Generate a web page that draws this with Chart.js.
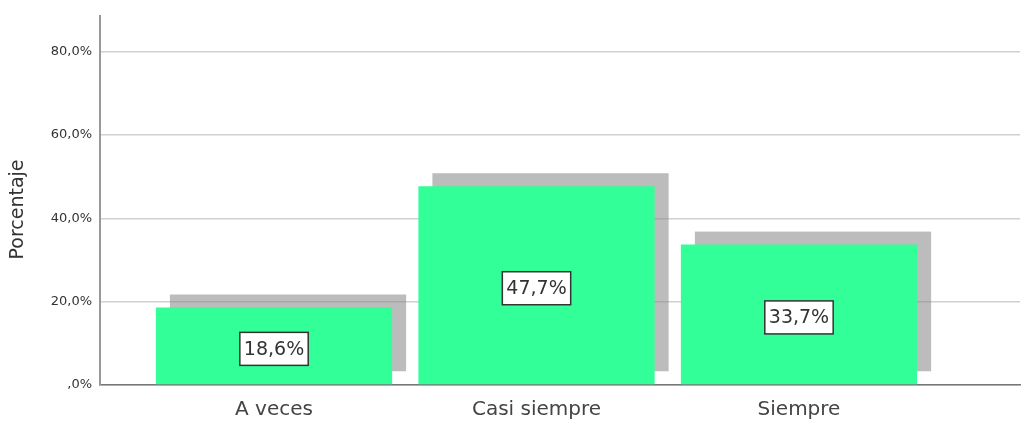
<!DOCTYPE html>
<html>
<head>
<meta charset="utf-8">
<script src="https://cdn.jsdelivr.net/npm/chart.js@4"></script>
<style>
  html, body { margin: 0; padding: 0; background: #fff; }
</style>
</head>
<body>
<canvas id="grafico" width="1030" height="425"></canvas>
<script>
// datos
const categorias = ['A veces', 'Casi siempre', 'Siempre'];
const porcentajes = [18.6, 47.7, 33.7];
const yTicks = [0, 20, 40, 60, 80];
const yTickLabels = [',0%', '20,0%', '40,0%', '60,0%', '80,0%'];
const yMax = 88.6;

const FUENTE = 'DejaVu Sans';

function formato(v) {
  return v.toFixed(1).replace('.', ',') + '%';
}

// sombra gris detras de cada barra (estilo SPSS)
const sombra = {
  id: 'sombra',
  beforeDatasetsDraw(chart) {
    const ctx = chart.ctx;
    ctx.save();
    ctx.fillStyle = 'rgba(140,140,140,0.58)';
    chart.getDatasetMeta(0).data.forEach(bar => {
      const p = bar.getProps(['x', 'y', 'base', 'width'], true);
      ctx.fillRect(p.x - p.width / 2 + 14, p.y - 13, p.width, p.base - p.y);
    });
    ctx.restore();
  }
};

// etiqueta con recuadro blanco en el centro de la barra
const etiquetas = {
  id: 'etiquetas',
  afterDatasetsDraw(chart) {
    const ctx = chart.ctx;
    ctx.save();
    ctx.font = '19px "' + FUENTE + '"';
    ctx.textAlign = 'center';
    ctx.textBaseline = 'middle';
    chart.getDatasetMeta(0).data.forEach((bar, i) => {
      const p = bar.getProps(['x', 'y', 'base'], true);
      const txt = formato(porcentajes[i]);
      const w = ctx.measureText(txt).width + 8;
      const h = 33;
      const cy = (p.y + p.base) / 2 + 3;
      ctx.fillStyle = '#fff';
      ctx.fillRect(p.x - w / 2, cy - h / 2, w, h);
      ctx.strokeStyle = '#333';
      ctx.lineWidth = 1.5;
      ctx.strokeRect(p.x - w / 2, cy - h / 2, w, h);
      ctx.fillStyle = '#333';
      ctx.fillText(txt, p.x, cy + 1);
    });
    ctx.restore();
  }
};

new Chart(document.getElementById('grafico'), {
  type: 'bar',
  data: {
    datasets: [{
      label: 'Porcentaje',
      data: porcentajes.map((v, i) => ({ x: i, y: v })),
      backgroundColor: '#33ff99',
      borderWidth: 0,
      categoryPercentage: 1,
      barPercentage: 0.9
    }]
  },
  options: {
    responsive: false,
    animation: false,
    layout: { padding: { top: 15, right: 10, left: 0, bottom: 0 } },
    plugins: {
      legend: { display: false },
      tooltip: { enabled: false }
    },
    scales: {
      x: {
        type: 'linear',
        offset: false,
        min: -0.663,
        max: 2.842,
        afterBuildTicks: s => { s.ticks = categorias.map((c, i) => ({ value: i })); },
        afterFit: s => { s.height = 40; },
        ticks: {
          callback: v => categorias[v],
          autoSkip: false,
          maxRotation: 0,
          padding: 13,
          color: '#444',
          font: { family: FUENTE, size: 20 }
        },
        grid: { display: false, drawTicks: false, offset: false },
        border: { display: true, color: '#777', width: 1.5 }
      },
      y: {
        min: 0,
        max: yMax,
        afterBuildTicks: s => { s.ticks = yTicks.map(v => ({ value: v })); },
        afterFit: s => { s.width = 100; },
        ticks: {
          callback: (v, i) => yTickLabels[i],
          padding: 8,
          color: '#333',
          font: { family: FUENTE, size: 13 }
        },
        grid: { color: '#d0d0d0', lineWidth: 1.5, drawTicks: false },
        border: { display: true, color: '#999', width: 2 },
        title: {
          display: true,
          text: 'Porcentaje   ',
          color: '#333',
          font: { family: FUENTE, size: 19 },
          padding: { top: 7, bottom: 0 }
        }
      }
    }
  },
  plugins: [sombra, etiquetas]
});
</script>
</body>
</html>
